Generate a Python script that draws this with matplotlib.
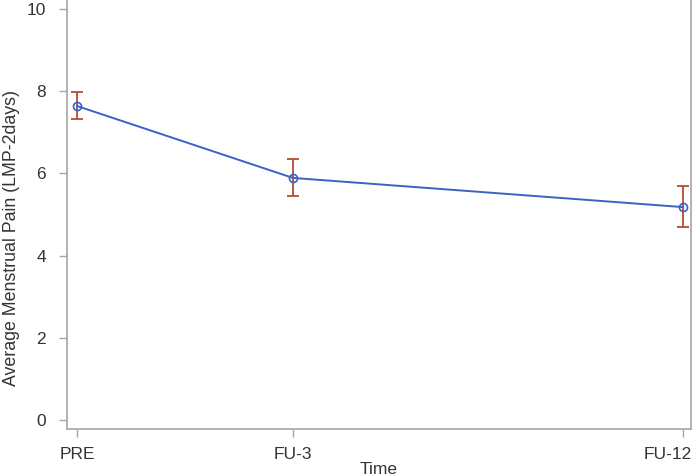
import matplotlib
matplotlib.use("Agg")
import matplotlib.pyplot as plt
import matplotlib.transforms as mtransforms

times = ["PRE", "FU-3", "FU-12"]
x_pos = [0.0, 1.0, 2.806]
means = [7.64, 5.89, 5.18]
upper = [7.97, 6.34, 5.69]
lower = [7.33, 5.46, 4.70]
yticks = [0, 2, 4, 6, 8, 10]

plt.rcParams['font.family'] = ['Liberation Sans', 'DejaVu Sans']

fig = plt.figure(figsize=(6.93, 4.76), dpi=100)
ax = fig.add_axes([67/693, 1 - 429/476, (691 - 67)/693, 429/476])

yerr = [[m - l for m, l in zip(means, lower)], [u - m for m, u in zip(means, upper)]]
ax.errorbar(x_pos, means, yerr=yerr, fmt='none', ecolor='#b84a32', elinewidth=1.3,
            capsize=4.5, capthick=1.3, zorder=2)
ax.plot(x_pos, means, color='#3d62c4', lw=1.4, marker='o', ms=5.8,
        mfc='none', mec='#3d62c4', mew=1.2, zorder=3)

ax.set_xlim(-10/216, 2.806 + 8/216)
ax.set_ylim(-9/41.1, 10 + 9/41.1)
ax.set_xticks(x_pos)
ax.set_xticklabels(times)
ax.set_yticks(yticks)
ax.set_yticklabels([str(v) for v in yticks])

for s in ['left', 'bottom', 'right']:
    ax.spines[s].set_color('#a6a6a6')
    ax.spines[s].set_linewidth(1.2)
ax.spines['top'].set_visible(False)
ax.tick_params(axis='both', colors='#a6a6a6', labelcolor='#333333', labelsize=12.5, length=6, width=1)
ax.tick_params(axis='y', pad=9)
ax.tick_params(axis='x', pad=7)

last = ax.get_xticklabels()[-1]
last.set_ha('right')
last.set_transform(last.get_transform() + mtransforms.ScaledTranslation(9/100, 0, fig.dpi_scale_trans))

ax.set_xlabel("Time", fontsize=12.5, color='#333333')
ax.xaxis.set_label_coords(0.5, -(463 - 429 + 14) / 429, transform=ax.transAxes)
ax.xaxis.label.set_va('bottom')
ax.set_ylabel("Average Menstrual Pain (LMP-2days)", fontsize=12.8, color='#333333')
ax.yaxis.set_label_coords((11.5 - 67) / 624, (429 - 238) / 429)
ax.yaxis.label.set_va('center')

fig.savefig("out.png", dpi=100)
